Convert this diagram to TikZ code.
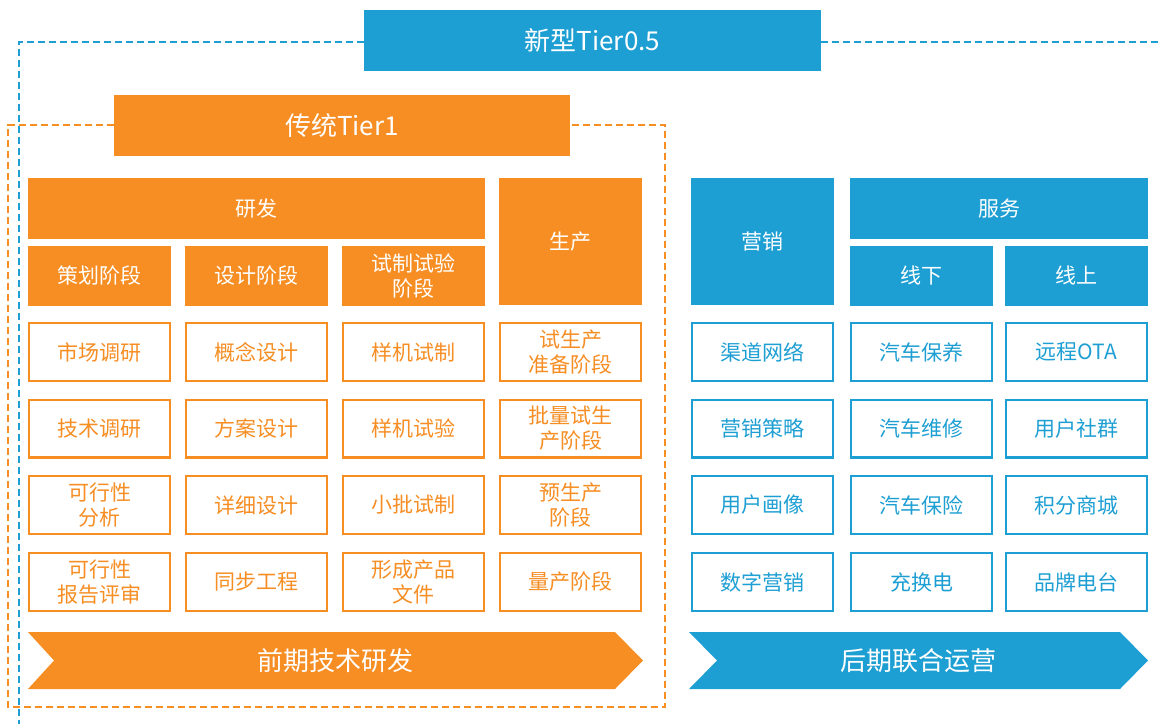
\documentclass[tikz,border=0pt]{standalone}
\usepackage{fontspec}
\setmainfont{Noto Sans CJK SC}
\definecolor{tor}{RGB}{246,142,36}
\definecolor{tbl}{RGB}{30,159,211}
\begin{document}
\begin{tikzpicture}[x=1pt,y=-1pt,
  fbox/.style={fill=#1, draw=none, text=white, inner sep=0pt, align=center,
     font=\fontsize{21}{25}\selectfont},
  obox/.style={draw=#1, line width=2.4pt, fill=white, text=#1, inner sep=0pt, align=center,
     minimum width=140.6pt, minimum height=57.6pt, font=\fontsize{21}{25}\selectfont},
  hdr/.style={minimum width=143pt, minimum height=60pt},
  frame/.style={draw=#1, line width=2.4pt, dash pattern=on 7pt off 4pt}]
\useasboundingbox (0,0) rectangle (1160,724);

% titles
\node[fbox=tbl, minimum width=457pt, minimum height=61pt, font=\fontsize{26}{30}\selectfont] (t05) at (592.5,40.5) {新型Tier0.5};
\node[fbox=tor, minimum width=456pt, minimum height=61pt, font=\fontsize{26}{30}\selectfont] (t1) at (342,125.5) {传统Tier1};

% dashed frames
\coordinate (bl) at (19,42);
\coordinate (bb) at (19,724);
\coordinate (br) at (1160,42);
\draw[frame=tbl] (t05.west |- bl) -- (bl) -- (bb);
\draw[frame=tbl] (t05.east |- br) -- (br);
\coordinate (otl) at (8,125);
\coordinate (obl) at (8,707);
\coordinate (obr) at (665,707);
\coordinate (otr) at (665,125);
\draw[frame=tor] (t1.west |- otl) -- (otl) -- (obl) -- (obr) -- (otr) -- (t1.east |- otr);

% orange headers
\node[fbox=tor, minimum width=457pt, minimum height=61pt] (yf) at (256.5,208.5) {研发};
\node[fbox=tor, minimum width=143pt, minimum height=127pt] (sc) at (570.5,241.5) {生产};
\node[fbox=tor, hdr] (ch) at (99.5,275.5) {策划阶段};
\node[fbox=tor, hdr] (sj) at (256.5,275.5) {设计阶段};
\node[fbox=tor, hdr] (sz) at (413.5,275.5) {试制试验\\阶段};

% blue headers
\node[fbox=tbl, minimum width=143pt, minimum height=127pt] (yx) at (762.5,241.5) {营销};
\node[fbox=tbl, minimum width=298pt, minimum height=61pt] (fw) at (999,208.5) {服务};
\node[fbox=tbl, hdr] (xx) at (921.5,275.5) {线下};
\node[fbox=tbl, hdr] (xs) at (1076.5,275.5) {线上};

% orange cells
\node[obox=tor] (a1) at (99.5,352) {市场调研};
\node[obox=tor] (a2) at (99.5,428.5) {技术调研};
\node[obox=tor] (a3) at (99.5,505) {可行性\\分析};
\node[obox=tor] (a4) at (99.5,582) {可行性\\报告评审};
\node[obox=tor] (b1) at (256.5,352) {概念设计};
\node[obox=tor] (b2) at (256.5,428.5) {方案设计};
\node[obox=tor] (b3) at (256.5,505) {详细设计};
\node[obox=tor] (b4) at (256.5,582) {同步工程};
\node[obox=tor] (c1) at (413.5,352) {样机试制};
\node[obox=tor] (c2) at (413.5,428.5) {样机试验};
\node[obox=tor] (c3) at (413.5,505) {小批试制};
\node[obox=tor] (c4) at (413.5,582) {形成产品\\文件};
\node[obox=tor] (d1) at (570.5,352) {试生产\\准备阶段};
\node[obox=tor] (d2) at (570.5,428.5) {批量试生\\产阶段};
\node[obox=tor] (d3) at (570.5,505) {预生产\\阶段};
\node[obox=tor] (d4) at (570.5,582) {量产阶段};

% blue cells
\node[obox=tbl] (e1) at (762.5,352) {渠道网络};
\node[obox=tbl] (e2) at (762.5,428.5) {营销策略};
\node[obox=tbl] (e3) at (762.5,505) {用户画像};
\node[obox=tbl] (e4) at (762.5,582) {数字营销};
\node[obox=tbl] (f1) at (921.5,352) {汽车保养};
\node[obox=tbl] (f2) at (921.5,428.5) {汽车维修};
\node[obox=tbl] (f3) at (921.5,505) {汽车保险};
\node[obox=tbl] (f4) at (921.5,582) {充换电};
\node[obox=tbl] (g1) at (1076.5,352) {远程OTA};
\node[obox=tbl] (g2) at (1076.5,428.5) {用户社群};
\node[obox=tbl] (g3) at (1076.5,505) {积分商城};
\node[obox=tbl] (g4) at (1076.5,582) {品牌电台};

% chevrons
\fill[tor] (28,632) -- (615,632) -- (643,660.5) -- (615,689) -- (28,689) -- (54,660.5) -- cycle;
\node[text=white, font=\fontsize{26}{30}\selectfont, inner sep=0pt] (qq) at (335,660.5) {前期技术研发};
\fill[tbl] (689,632) -- (1120,632) -- (1148,660.5) -- (1120,689) -- (689,689) -- (717,660.5) -- cycle;
\node[text=white, font=\fontsize{26}{30}\selectfont, inner sep=0pt] (hq) at (918,660.5) {后期联合运营};
\end{tikzpicture}
\end{document}
